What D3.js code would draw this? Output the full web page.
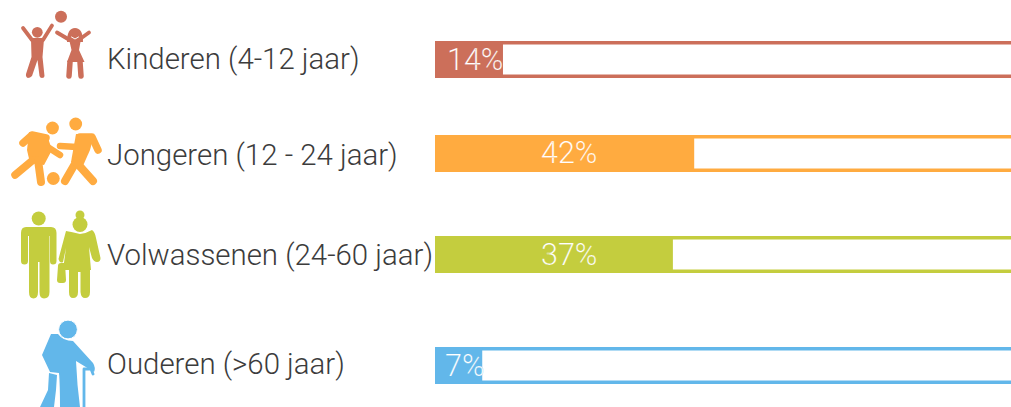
<!DOCTYPE html>
<html>
<head>
<meta charset="utf-8">
<script src="https://cdn.jsdelivr.net/npm/d3@7"></script>
<style>
  html, body { margin: 0; padding: 0; background: #fff; overflow: hidden; }
  text { font-family: Roboto, sans-serif; font-weight: 300; }
</style>
</head>
<body>
<svg id="chart" width="1011" height="407"></svg>
<script>
const categories = ["Kinderen (4-12 jaar)", "Jongeren (12 - 24 jaar)", "Volwassenen (24-60 jaar)", "Ouderen (>60 jaar)"];
const percentLabels = ["14%", "42%", "37%", "7%"];
// drawn length of each fill, as share of the visible track (not the same as the label)
const fillShare = [11.8, 45, 41.3, 8.2];
const colors = ["#cc6f5a", "#ffab40", "#c4cd3e", "#62b7ea"];

const svg = d3.select("#chart");
const x = d3.scaleLinear().domain([0, 100]).range([435, 1011]);
const y = d3.scaleOrdinal().domain(categories).range([41, 135, 236, 347]);
const labelY = d3.scaleOrdinal().domain(categories).range([69, 165, 265, 374]);
const pctY = d3.scaleOrdinal().domain(categories).range([70, 163, 265, 376]);
const pctX = d3.scaleOrdinal().domain(categories).range([447, 541, 541, 445]);
const barH = 37;
const border = 3.5;

const rows = svg.selectAll("g.row")
  .data(categories)
  .enter()
  .append("g")
  .attr("class", "row");

// track: white box with coloured edge, runs off the right side
rows.append("rect")
  .attr("x", x(0) + border / 2)
  .attr("y", d => y(d) + border / 2)
  .attr("width", 620)
  .attr("height", barH - border)
  .attr("fill", "#fff")
  .attr("stroke", (d, i) => colors[i])
  .attr("stroke-width", border);

rows.append("rect")
  .attr("x", x(0))
  .attr("y", d => y(d))
  .attr("width", (d, i) => x(fillShare[i]) - x(0))
  .attr("height", barH)
  .attr("fill", (d, i) => colors[i]);

rows.append("text")
  .attr("x", 107)
  .attr("y", d => labelY(d))
  .attr("font-size", 29.4)
  .attr("fill", "#3c3c3c")
  .text(d => d);

// bar-coloured outline thins the glyphs, the reference numbers are very light
rows.append("text")
  .attr("x", d => pctX(d))
  .attr("y", d => pctY(d))
  .attr("font-size", 30.5)
  .attr("fill", "#fff")
  .attr("stroke", (d, i) => colors[i])
  .attr("stroke-width", 0.2)
  .text((d, i) => percentLabels[i]);

// icons
const line = (g, pts, w, c) => g.append("path")
  .attr("d", d3.line()(pts))
  .attr("fill", "none")
  .attr("stroke", c)
  .attr("stroke-width", w)
  .attr("stroke-linecap", "round")
  .attr("stroke-linejoin", "round");
const dot = (g, cx, cy, r, c) => g.append("circle").attr("cx", cx).attr("cy", cy).attr("r", r).attr("fill", c);
const shape = (g, d, c) => g.append("path").attr("d", d).attr("fill", c);

// children
const kids = svg.append("g");
let c = colors[0];
dot(kids, 61, 16.7, 6, c);
dot(kids, 37.3, 32.3, 5.4, c);
line(kids, [[23, 28], [32, 40], [43, 40], [52, 25.5]], 3.8, c);
shape(kids, "M31 39H44L42.5 57L44.5 76Q44.5 78 42 78Q40 78 39.5 76L37.5 60L32 76Q30 78 28 78Q25.5 77 26 74L31.5 57Z", c);
// girl hair and head
shape(kids, "M67 42Q67 28 75 28Q83 28 83 42Z", c);
line(kids, [[57, 32.5], [68, 39], [80, 39], [89, 32.5]], 3.8, c);
shape(kids, "M69 39H81L79 50L84.5 62H67L71.5 50Z", c);
line(kids, [[70, 62], [69, 76]], 5.5, c);
line(kids, [[80, 62], [81, 76]], 5.5, c);
line(kids, [[71.5, 37], [75, 39], [78.5, 37]], 1, "#fff");

// youngsters
const young = svg.append("g");
c = colors[1];
dot(young, 52.5, 128, 6.4, c);
dot(young, 75.7, 124, 6.4, c);
dot(young, 53.3, 178.5, 6.4, c);
line(young, [[23, 143], [32, 135], [46, 138]], 7.5, c);
line(young, [[46, 146], [60, 155]], 6.5, c);
shape(young, "M29 132L47 135L52 150L44 165L30 163L27 150Z", c);
line(young, [[33, 160], [15, 175]], 7.5, c);
line(young, [[38, 160], [41, 182]], 8, c);
line(young, [[60, 146], [77, 147]], 6.5, c);
line(young, [[80, 137], [92, 137], [98, 150]], 7.5, c);
shape(young, "M76 134L94 135L90 150L82 168L71 162Z", c);
line(young, [[76, 162], [65, 181]], 8, c);
line(young, [[76, 162], [93, 181]], 8, c);

// adults
const adults = svg.append("g");
c = colors[2];
dot(adults, 38.7, 218.5, 7, c);
shape(adults, "M26 227H51Q56.5 227 56.5 233V261Q56.5 264.5 53 264.5Q50 264.5 50 261V236H49.5V292Q49.5 298.5 44 298.5Q39.5 298.5 39.5 292V262H38V292Q38 298.5 33.5 298.5Q29 298.5 29 292V236H28V261Q28 264.5 24.5 264.5Q21 264.5 21 261V233Q21 227 26 227Z", c);
dot(adults, 80, 224.5, 7.5, c);
dot(adults, 80, 215, 4.5, c);
shape(adults, "M66 231Q72 232 80 234Q87 233 92 230Q95 232 96 238L100.5 258Q100.5 262 97 262Q94 262 92 258L89 247L91 270H90V292Q90 298 85 298Q81 298 80.5 292V272H78V292Q78 298 73 298Q69 298 69 292V270H63L66 248L63 262Q60 264 58.5 259Z", c);
shape(adults, "M58 266Q58 263 61 263H65L66 280Q66 283 63 283H60Q57 283 57 280Z", c);

// elderly
const old = svg.append("g");
c = colors[3];
old.append("clipPath").attr("id", "pageClip")
  .append("rect").attr("width", 1011).attr("height", 407);
old.attr("clip-path", "url(#pageClip)");
shape(old, "M51 334L58 334Q63 341 73 341L93 363Q96 368 94 372L76 361Q77 385 80 407H60Q60 385 59 373L50 372L42 355Z", c);
shape(old, "M49 373L57 375L56 390L54 407H40L48 390Z", c);
line(old, [[58.5, 375], [58, 407]], 1.2, "#fff");
old.append("circle").attr("cx", 68).attr("cy", 329.5).attr("r", 9.4).attr("fill", c).attr("stroke", "#fff").attr("stroke-width", 1);
line(old, [[84, 407], [84, 369], [91, 369], [93, 374]], 2.8, c);
</script>
</body>
</html>
